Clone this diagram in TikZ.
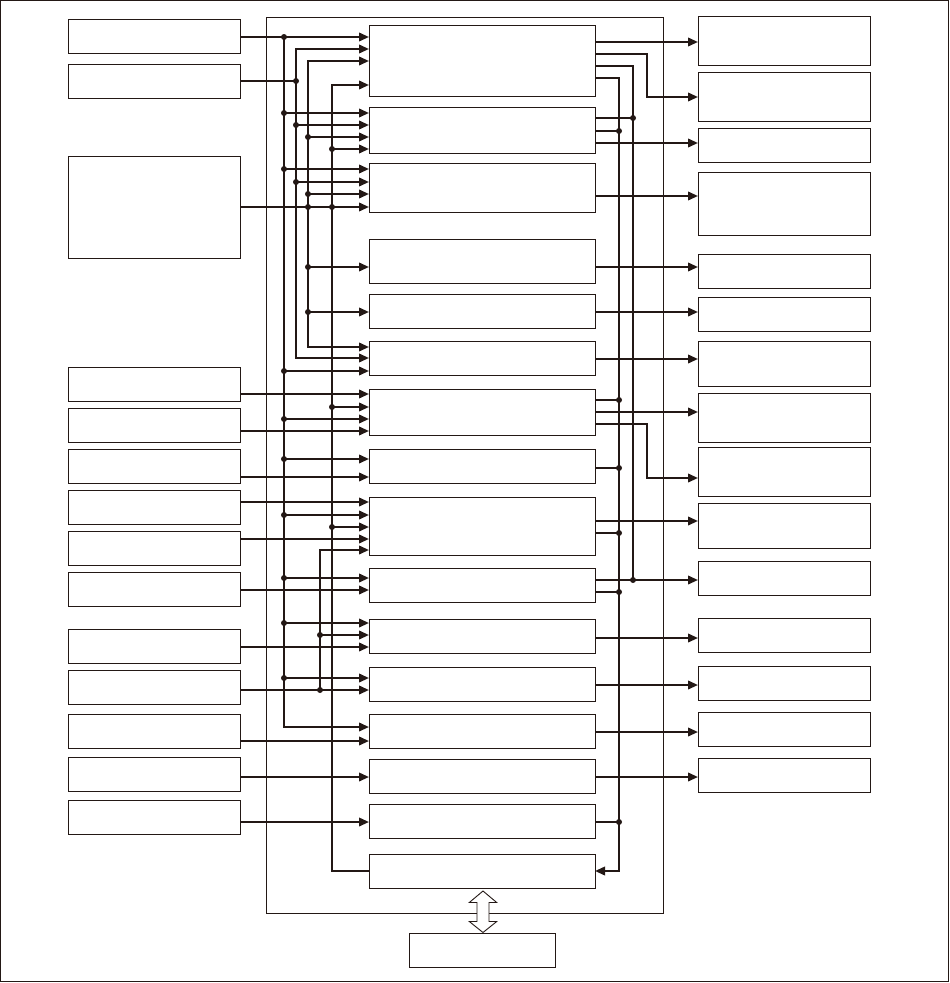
\documentclass[tikz,border=0pt]{standalone}
\usetikzlibrary{arrows.meta}
\definecolor{ink}{RGB}{35,24,21}
\begin{document}
\begin{tikzpicture}[x=1pt,y=-1pt,
  box/.style={draw=ink, line width=0.9pt, anchor=north west, inner sep=0pt, outer sep=0pt},
  con/.style={draw=ink, line width=2.1pt, line join=miter},
  arr/.style={con, -{Triangle[length=10pt,width=8.5pt]}},
  arrb/.style={con, {Triangle[length=10pt,width=8.5pt]}-},
  arrs/.style={con, {Triangle[length=10pt,width=8.5pt]}-{Triangle[length=10pt,width=8.5pt]}}]
\useasboundingbox (0,0) rectangle (950,983);
\draw[ink, line width=0.9pt] (0.5,0.5) rectangle (948.5,981.5);
\def\xA{284}\def\xB{296}\def\xC{308}\def\xE{320}\def\xD{332}
\def\xF{619}\def\xG{633}\def\xH{647}
% container
\node[box, minimum width=397pt, minimum height=896pt] (Cont) at (266,17) {};
% left boxes
\foreach \n/\y/\h in {L1/19/34,L2/64/34,L3/156/102,L4/367/34,L5/408/34,L6/449/34,L7/490/34,L8/531/34,L9/572/34,L10/629/34,L11/670/34,L12/714/34,L13/757/34,L14/800/34}
  \node[box, minimum width=172pt, minimum height=\h pt] (\n) at (68,\y) {};
% middle boxes
\foreach \n/\y/\h in {M1/25/71,M2/107/46,M3/163/49,M4/239/44,M5/294/34,M6/341/34,M7/389/46,M8/449/34,M9/497/58,M10/568/34,M11/619/34,M12/667/34,M13/714/34,M14/759/34,M15/804/34,M16/854/34}
  \node[box, minimum width=226pt, minimum height=\h pt] (\n) at (369,\y) {};
% right boxes
\foreach \n/\y/\h in {R1/16/49,R2/72/49,R3/128/34,R4/172/63,R5/254/34,R6/297/34,R7/341/45,R8/393/49,R9/447/49,R10/503/45,R11/561/34,R12/618/34,R13/666/34,R14/712/34,R15/758/34}
  \node[box, minimum width=172pt, minimum height=\h pt] (\n) at (698,\y) {};
% bottom box
\node[box, minimum width=146pt, minimum height=34pt] (Bot) at (409,933) {};

% left buses
\draw[arr] (\xA,37) -- (\xA,727) -- (M13.west |- 0,727);
\draw[arrs] (M1.west |- 0,49) -- (\xB,49) -- (\xB,358) -- (M6.west |- 0,358);
\draw[arrs] (M1.west |- 0,61) -- (\xC,61) -- (\xC,347) -- (M6.west |- 0,347);
\draw[arrb] (M1.west |- 0,85) -- (\xD,85) -- (\xD,871) -- (M16.west |- 0,871);
\draw[arr] (\xE,690) -- (\xE,550) -- (M9.west |- 0,550);

% bus taps into middle boxes
\foreach \xx/\y/\m in {\xA/113/M2,\xA/169/M3,\xA/371/M6,\xA/419/M7,\xA/459/M8,\xA/515/M9,\xA/578/M10,\xA/623/M11,\xA/678/M12,
  \xB/125/M2,\xB/182/M3,
  \xC/137/M2,\xC/194/M3,\xC/267/M4,\xC/312/M5,
  \xD/149/M2,\xD/407/M7,\xD/527/M9,
  \xE/635/M11}{
  \draw[arr] (\xx,\y) -- (\m.west |- 0,\y);
  \fill[ink] (\xx,\y) circle[radius=3pt];
}

% left box inputs
\foreach \s/\y/\m in {L1/37/M1,L3/207/M3,L4/394/M7,L5/431/M7,L6/477/M8,L7/502/M9,L8/539/M9,L9/590/M10,L10/647/M11,L11/690/M12,L12/741/M13,L13/777/M14,L14/822/M15}
  \draw[arr] (\s.east |- 0,\y) -- (\m.west |- 0,\y);
\draw[con] (L2.east |- 0,81) -- (\xB,81);
\foreach \xx/\y in {\xA/37,\xB/81,\xC/207,\xD/207,\xE/690}
  \fill[ink] (\xx,\y) circle[radius=3pt];

% right buses
\draw[arr] (M1.east |- 0,78) -- (\xF,78) -- (\xF,871) -- (M16.east |- 0,871);
\draw[con] (M1.east |- 0,66) -- (\xG,66) -- (\xG,580);
\draw[arr] (M1.east |- 0,54) -- (\xH,54) -- (\xH,97) -- (R2.west |- 0,97);
\draw[arr] (M7.east |- 0,424) -- (\xH,424) -- (\xH,478) -- (R9.west |- 0,478);

% direct outputs
\foreach \m/\y/\r in {M1/42/R1,M2/143/R3,M3/196/R4,M4/267/R5,M5/312/R6,M6/359/R7,M7/412/R8,M9/521/R10,M10/580/R11,M11/638/R12,M12/685/R13,M13/732/R14,M14/777/R15}
  \draw[arr] (\m.east |- 0,\y) -- (\r.west |- 0,\y);
% outputs onto buses
\foreach \m/\y/\xx in {M2/118/\xG,M2/131/\xF,M7/400/\xF,M8/468/\xF,M9/533/\xF,M10/592/\xF,M15/822/\xF}{
  \draw[con] (\m.east |- 0,\y) -- (\xx,\y);
  \fill[ink] (\xx,\y) circle[radius=3pt];
}
\fill[ink] (\xG,580) circle[radius=3pt];

% double arrow
\draw[ink, line width=0.9pt, fill=white] (483,891) -- (496.7,902.5) -- (489,902.5) -- (489,921.5) -- (496.7,921.5) -- (483,932.5) -- (469.3,921.5) -- (477,921.5) -- (477,902.5) -- (469.3,902.5) -- cycle;
\end{tikzpicture}
\end{document}
